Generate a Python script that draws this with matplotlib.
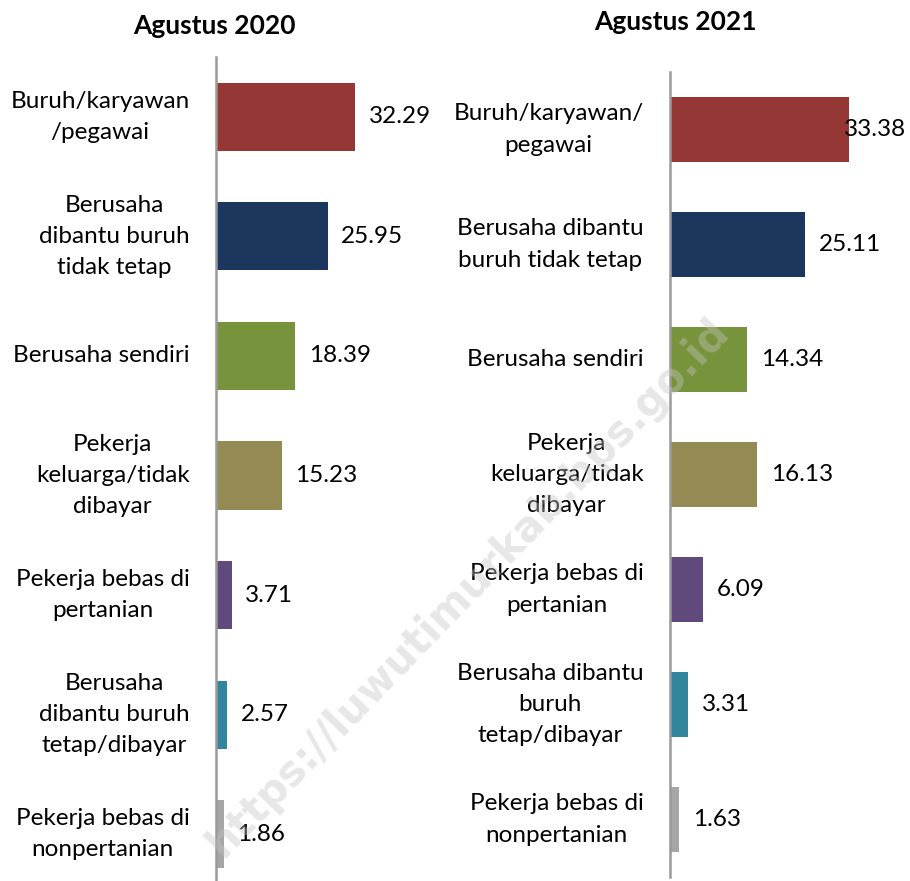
import matplotlib
matplotlib.use("Agg")
import matplotlib.pyplot as plt

plt.rcParams['font.family'] = ['Lato', 'DejaVu Sans']

# data
labels_2020 = ["Buruh/karyawan\n/pegawai", "Berusaha\ndibantu buruh\ntidak tetap",
               "Berusaha sendiri", "Pekerja\nkeluarga/tidak\ndibayar",
               "Pekerja bebas di\npertanian", "Berusaha\ndibantu buruh\ntetap/dibayar",
               "Pekerja bebas di\nnonpertanian"]
labels_2021 = ["Buruh/karyawan/\npegawai", "Berusaha dibantu\nburuh tidak tetap",
               "Berusaha sendiri", "Pekerja\nkeluarga/tidak\ndibayar",
               "Pekerja bebas di\npertanian", "Berusaha dibantu\nburuh\ntetap/dibayar",
               "Pekerja bebas di\nnonpertanian"]
values_2020 = [32.29, 25.95, 18.39, 15.23, 3.71, 2.57, 1.86]
values_2021 = [33.38, 25.11, 14.34, 16.13, 6.09, 3.31, 1.63]
colors = ["#953735", "#1B375D", "#77933C", "#948A54", "#604A7B", "#31859C", "#A6A6A6"]

W, H = 910, 881
fig = plt.figure(figsize=(W / 100, H / 100), dpi=100)


def px_axes(x0, y0, x1, y1):
    # pixel box (top-left origin) -> figure fraction
    return fig.add_axes([x0 / W, 1 - y1 / H, (x1 - x0) / W, (y1 - y0) / H])


def panel(ax, labels, values, xmax, title, title_xy):
    pos = list(range(len(values)))
    ax.barh(pos, values, height=0.57, color=colors, zorder=1)
    ax.set_ylim(6.5, -0.5)
    ax.set_xlim(0, xmax)
    for s in ["top", "right", "bottom"]:
        ax.spines[s].set_visible(False)
    ax.spines["left"].set_color("#9a9a9a")
    ax.spines["left"].set_linewidth(1.8)
    ax.set_xticks([])
    ax.set_yticks(pos)
    ax.set_yticklabels(labels, fontsize=17.5)
    ax.tick_params(axis="y", length=0, pad=19)
    for t in ax.get_yticklabels():
        t.set_multialignment("center")
        t.set_verticalalignment("center")
        t.set_linespacing(1.6)
    pad = xmax * 0.06
    for p, v in zip(pos, values):
        if v + pad > xmax * 0.76:
            ax.text(xmax, p, f"{v:.2f}", ha="right", va="center", fontsize=17.5)
        else:
            ax.text(v + pad, p, f"{v:.2f}", ha="left", va="center", fontsize=17.5)
    fig.text(title_xy[0] / W, 1 - title_xy[1] / H, title, ha="center", va="center",
             fontsize=19, fontweight="bold")


ax1 = px_axes(216, 57, 440, 894)
panel(ax1, labels_2020, values_2020, 224 / 4.305, "Agustus 2020", (214, 26))

ax2 = px_axes(670, 72, 906, 877)
panel(ax2, labels_2021, values_2021, 236 / 5.37, "Agustus 2021", (675, 22))

# watermark
fig.text(468 / W, 1 - 588 / H, "https://luwutimurkab.bps.go.id", rotation=46,
         ha="center", va="center", fontsize=30, fontweight="bold",
         color="#c4c4c4", alpha=0.4, family=["DejaVu Sans"])

fig.savefig("out.png", dpi=100)
